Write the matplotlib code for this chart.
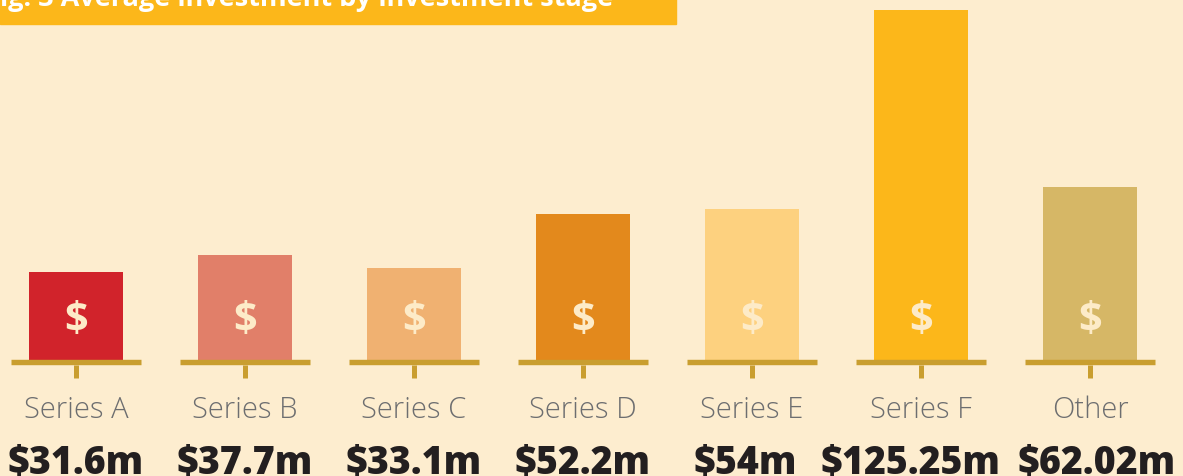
import matplotlib
matplotlib.use("Agg")
import matplotlib.pyplot as plt
from matplotlib.patches import Rectangle

# data
categories = ["Series A", "Series B", "Series C", "Series D", "Series E", "Series F", "Other"]
values = [31.6, 37.7, 33.1, 52.2, 54.0, 125.25, 62.02]
value_labels = ["$31.6m", "$37.7m", "$33.1m", "$52.2m", "$54m", "$125.25m", "$62.02m"]
bar_colors = ["#D1232B", "#E17F69", "#F0B171", "#E3891C", "#FDD17F", "#FCB71A", "#D6B766"]
title = "Fig. 3 Average investment by investment stage"

bg = "#FDEDCF"
base_color = "#C99E2F"
W, H = 1183, 477
k = 2.792  # px per unit
# small nudges so the wide value labels don't collide
label_nudge = [0, 0, 0, 0, -0.04, -0.065, 0.036]

plt.rcParams['font.family'] = ['Open Sans', 'DejaVu Sans']

fig = plt.figure(figsize=(W / 100, H / 100), dpi=100)
fig.patch.set_facecolor(bg)
ax = fig.add_axes([0, 0, 1, 1])
ax.set_facecolor(bg)
ax.set_xlim(-76 / 169, (W - 76) / 169)
ax.set_ylim(-(H - 361) / k, 361 / k)
ax.axis("off")

x = list(range(len(categories)))
ax.bar(x, values, width=0.556, color=bar_colors, zorder=2)

# base segments and ticks
ax.hlines([-0.86] * len(x), [i - 0.385 for i in x], [i + 0.385 for i in x],
          color=base_color, linewidth=3.9, zorder=3)
ax.vlines(x, -1.8, -6.5, color=base_color, linewidth=3.6, zorder=3)

for i, (cat, lab) in enumerate(zip(categories, value_labels)):
    ax.text(i, 14.6, "$", ha="center", va="center", fontsize=30,
            fontweight="bold", color="#FDEBC8", zorder=4)
    ax.text(i, -20.4, cat, ha="center", va="baseline", fontsize=21,
            fontweight="light", color="#6D6E70")
    ax.text(i + label_nudge[i], -40.6, lab, ha="center", va="baseline", fontsize=27,
            fontweight="heavy", color="#231F20")

# title banner
fig.patches.append(Rectangle((0, 1 - 25 / H), 676 / W, 25 / H,
                             transform=fig.transFigure, color="#FCB71A", zorder=0))
fig.text(-15 / W, 1 - 6 / H, title, ha="left", va="baseline", fontsize=19.5,
         fontweight="bold", color="white")

fig.savefig("out.png", dpi=100, facecolor=bg)
